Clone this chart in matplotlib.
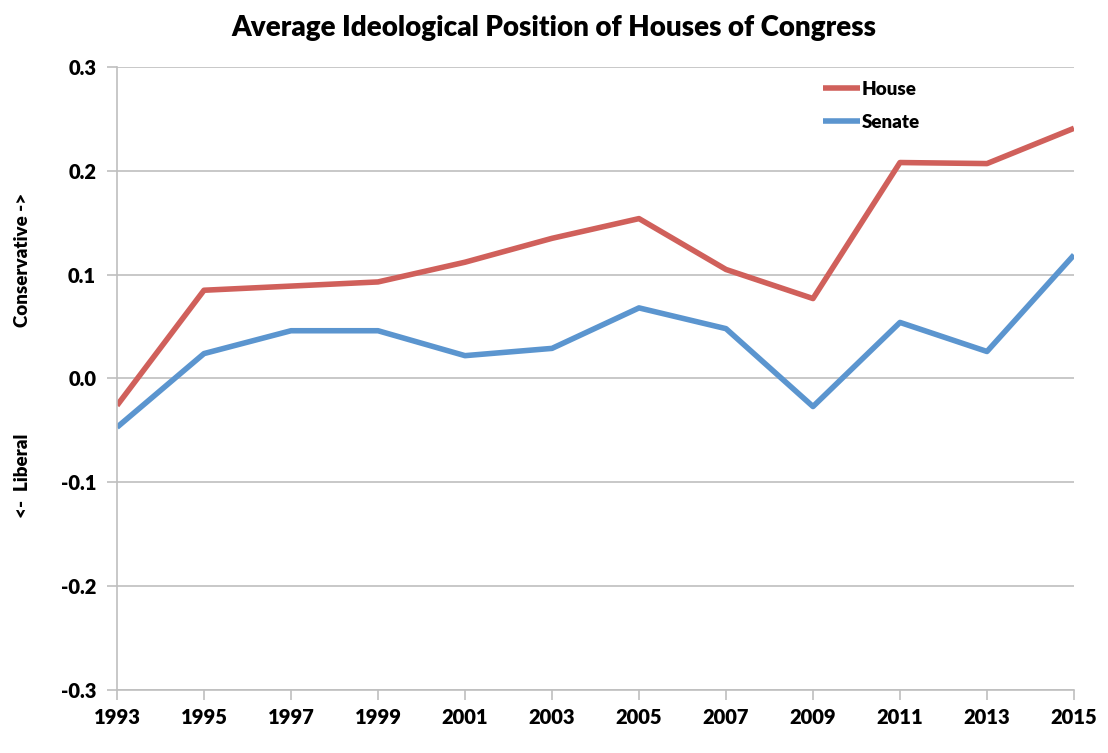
import numpy as np
import matplotlib
matplotlib.use('Agg')
import matplotlib.pyplot as plt

plt.rcParams['font.family'] = ['Lato', 'DejaVu Sans']
plt.rcParams['font.weight'] = 'heavy'

# data
years = [1993, 1995, 1997, 1999, 2001, 2003, 2005, 2007, 2009, 2011, 2013, 2015]
house = [-0.026, 0.085, 0.089, 0.093, 0.112, 0.135, 0.154, 0.105, 0.077, 0.208, 0.207, 0.241]
senate = [-0.047, 0.024, 0.046, 0.046, 0.022, 0.029, 0.068, 0.048, -0.027, 0.054, 0.026, 0.119]
yticks = [-0.3, -0.2, -0.1, 0.0, 0.1, 0.2, 0.3]

fig = plt.figure(figsize=(11.08, 7.53), dpi=100)
ax = fig.add_axes([0.1056, 0.0837, 0.8637, 0.8273])

x = np.arange(len(years))
ax.plot(x, house, color='#d0605b', lw=4.0, label='House', solid_capstyle='butt')
ax.plot(x, senate, color='#5b95cf', lw=4.0, label='Senate', solid_capstyle='butt')

ax.set_xlim(0, len(years) - 1)
ax.set_ylim(-0.3, 0.3)
ax.set_xticks(x)
ax.set_xticklabels([str(y) for y in years])
ax.set_yticks(yticks)
ax.set_yticklabels(['%.1f' % v for v in yticks])

ax.grid(axis='y', color='#bfbfbf', lw=1.2)
ax.set_axisbelow(True)
for s in ['top', 'right']:
    ax.spines[s].set_visible(False)
for s in ['left', 'bottom']:
    ax.spines[s].set_color('#bfbfbf')
    ax.spines[s].set_linewidth(1.2)
ax.tick_params(axis='both', colors='#bfbfbf', labelcolor='black', labelsize=14.5,
               length=7, width=1.2)
ax.tick_params(axis='x', pad=6)
ax.tick_params(axis='y', pad=8)

# title is centred on the figure, not on the axes
fig.text(0.5, 0.963, 'Average Ideological Position of Houses of Congress',
         ha='center', va='center', fontsize=20, fontweight='heavy')

fig.text(0.02, 0.655, 'Conservative ->', rotation=90, ha='center', va='center',
         fontsize=13.5, fontweight='heavy')
fig.text(0.02, 0.368, '<-  Liberal', rotation=90, ha='center', va='center',
         fontsize=13.5, fontweight='heavy')

ax.legend(loc='upper left', bbox_to_anchor=(0.72, 1.005), frameon=False,
          fontsize=13.5, handlelength=2.0, handletextpad=0.05, labelspacing=0.85)

plt.savefig('out.png', dpi=100)
